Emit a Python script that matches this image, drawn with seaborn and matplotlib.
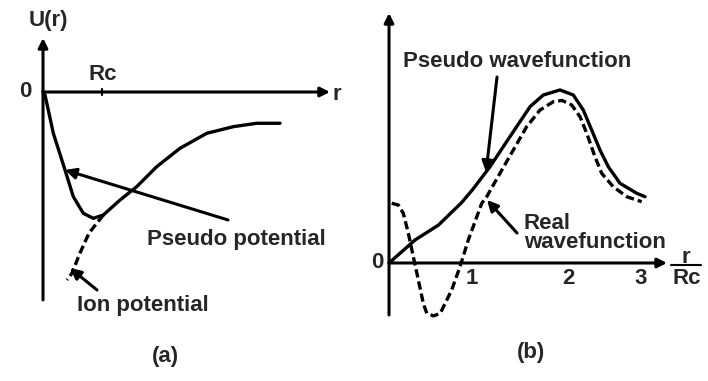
import matplotlib
matplotlib.use("Agg")
import matplotlib.pyplot as plt
import seaborn as sns

# Schematic: pseudo potential (a) and pseudo wavefunction (b)

sns.set_theme(style="white")
plt.rcParams['font.family'] = ['Liberation Sans', 'DejaVu Sans']
plt.rcParams['font.weight'] = 'bold'

# panel (a): r in units of Rc, U arbitrary units
pseudo_pot_r = [0.0, 0.034, 0.175, 0.373, 0.514, 0.683, 0.853, 1.022, 1.305, 1.588, 1.927, 2.322, 2.775, 3.225, 3.622, 4.017]
pseudo_pot_u = [0.0, -0.051, -0.7, -1.322, -1.775, -2.056, -2.141, -2.085, -1.831, -1.605, -1.266, -0.954, -0.7, -0.588, -0.53, -0.53]
ion_pot_r = [1.022, 0.78, 0.627, 0.492, 0.407]
ion_pot_u = [-2.085, -2.39, -2.729, -3.068, -3.186]

# panel (b): r/Rc, wavefunction arbitrary units
pseudo_wf_x = [0.0, 0.31, 0.587, 0.865, 1.0, 1.202, 1.44, 1.679, 1.837, 2.036, 2.194, 2.313, 2.413, 2.512, 2.611, 2.75, 2.949, 3.048]
pseudo_wf_y = [0.0, 0.274, 0.45, 0.72, 0.88, 1.146, 1.504, 1.861, 2.0, 2.06, 2.0, 1.821, 1.583, 1.345, 1.146, 0.949, 0.83, 0.789]
real_wf_x = [0.032, 0.111, 0.17, 0.23, 0.289, 0.349, 0.408, 0.45, 0.53, 0.61, 0.746, 0.845, 0.944, 1.104, 1.163,
             1.321, 1.48, 1.639, 1.798, 1.956, 2.06, 2.175, 2.274, 2.354, 2.452, 2.532, 2.67, 2.83, 3.008]
real_wf_y = [0.711, 0.69, 0.592, 0.354, 0.075, -0.202, -0.48, -0.6, -0.63, -0.6, -0.321, -0.044, 0.274, 0.711, 0.789,
             1.068, 1.345, 1.623, 1.821, 1.92, 1.935, 1.881, 1.742, 1.544, 1.265, 1.068, 0.908, 0.789, 0.73]
tick_labels = ['1', '2', '3']
tick_pos = [0.98, 2.14, 3.0]

fig = plt.figure(figsize=(7.08, 3.81), dpi=100)
ax_a = fig.add_axes([0.0, 0.0, 0.5, 1.0])
ax_b = fig.add_axes([0.5, 0.0, 0.5, 1.0])

lw = 2.4
fs = 16
dash = (0, (2.5, 1.2))
arrow = dict(arrowstyle='-|>', color='black', lw=2.2, mutation_scale=16, shrinkA=0, shrinkB=0)
axis_arrow = dict(arrowstyle='-|>', color='black', lw=2.2, mutation_scale=14, shrinkA=0, shrinkB=0)

# ---- (a) ----
ax = ax_a
ax.set_xlim(-0.729, 5.271)
ax.set_ylim(-4.898, 1.559)
ax.axis('off')
sns.lineplot(x=pseudo_pot_r, y=pseudo_pot_u, sort=False, color='black', lw=lw, ax=ax)
sns.lineplot(x=ion_pot_r, y=ion_pot_u, sort=False, color='black', lw=lw, ls=dash, ax=ax)
ax.annotate('', xy=(0, 0.915), xytext=(0, -3.525), arrowprops=axis_arrow)
ax.annotate('', xy=(4.864, 0), xytext=(0, 0), arrowprops=axis_arrow)
ax.plot([1, 1], [-0.05, 0.05], color='black', lw=1.5)
ax.annotate('', xy=(0.373, -1.322), xytext=(3.136, -2.169), arrowprops=arrow)
ax.annotate('', xy=(0.458, -2.983), xytext=(0.915, -3.356), arrowprops=arrow)
ax.text(0.085, 1.22, 'U(r)', fontsize=fs, ha='center', va='center')
ax.text(-0.305, 0.0, '0', fontsize=fs, ha='center', va='center')
ax.text(1.017, 0.288, 'Rc', fontsize=fs, ha='center', va='center')
ax.text(4.983, -0.05, 'r', fontsize=fs, ha='center', va='center')
ax.text(1.763, -2.508, 'Pseudo potential', fontsize=fs, ha='left', va='center')
ax.text(0.576, -3.61, 'Ion potential', fontsize=fs, ha='left', va='center')
ax.text(2.068, -4.49, '(a)', fontsize=fs, ha='center', va='center')

# ---- (b) ----
ax = ax_b
ax.set_xlim(-0.417, 3.798)
ax.set_ylim(-1.405, 3.131)
ax.axis('off')
sns.lineplot(x=pseudo_wf_x, y=pseudo_wf_y, sort=False, color='black', lw=lw, ax=ax)
sns.lineplot(x=real_wf_x, y=real_wf_y, sort=False, color='black', lw=lw, ls=dash, ax=ax)
ax.annotate('', xy=(0, 2.976), xytext=(0, -0.619), arrowprops=axis_arrow)
ax.annotate('', xy=(3.31, 0), xytext=(0, 0), arrowprops=axis_arrow)
for p, lab in zip(tick_pos, tick_labels):
    ax.text(p, -0.179, lab, fontsize=fs, ha='center', va='center')
ax.annotate('', xy=(1.155, 1.083), xytext=(1.286, 2.214), arrowprops=arrow)
ax.annotate('', xy=(1.167, 0.75), xytext=(1.524, 0.357), arrowprops=arrow)
ax.text(1.524, 2.393, 'Pseudo wavefunction', fontsize=fs, ha='center', va='center')
ax.text(1.607, 0.476, 'Real', fontsize=fs, ha='left', va='center')
ax.text(1.607, 0.238, 'wavefunction', fontsize=fs, ha='left', va='center')
ax.text(-0.143, 0.0, '0', fontsize=fs, ha='center', va='center')
ax.text(3.536, 0.071, 'r', fontsize=fs, ha='center', va='center')
ax.plot([3.357, 3.714], [-0.024, -0.024], color='black', lw=1.5)
ax.text(3.548, -0.19, 'Rc', fontsize=fs, ha='center', va='center')
ax.text(1.69, -1.06, '(b)', fontsize=fs, ha='center', va='center')

fig.savefig('out.png', dpi=100)
